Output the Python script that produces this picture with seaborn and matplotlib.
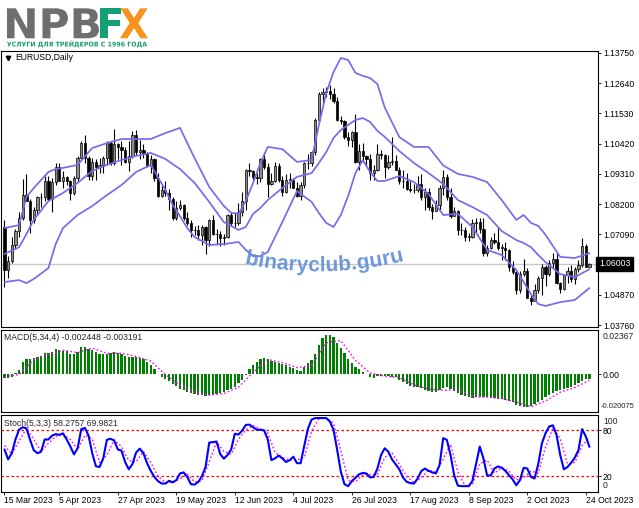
import numpy as np
import pandas as pd
import matplotlib
matplotlib.use("Agg")  # no display in the sandbox
import matplotlib.pyplot as plt
import seaborn as sns
from matplotlib.textpath import TextPath
from matplotlib.patches import PathPatch
from matplotlib.path import Path
from matplotlib.font_manager import FontProperties
from matplotlib.transforms import Affine2D, IdentityTransform, blended_transform_factory

# ---------------------------------------------------------------- data
# EURUSD daily, 15 Mar 2023 .. 25 Oct 2023 (bar index 0..160)
opens = [1.0735, 1.0577, 1.0610, 1.0670, 1.0720, 1.0770, 1.0855, 1.0830, 1.0760, 1.0800,
         1.0845, 1.0845, 1.0905, 1.0840, 1.0900, 1.0955, 1.0905, 1.0920, 1.0905, 1.0860,
         1.0915, 1.0990, 1.1045, 1.0990, 1.0925, 1.0975, 1.0955, 1.0965, 1.0990, 1.1045,
         1.0970, 1.1040, 1.1030, 1.1020, 1.0975, 1.0995, 1.1075, 1.1010, 1.1020, 1.1005,
         1.0960, 1.0985, 1.0915, 1.0850, 1.0870, 1.0860, 1.0840, 1.0770, 1.0805, 1.0815,
         1.0770, 1.0750, 1.0725, 1.0725, 1.0705, 1.0735, 1.0690, 1.0760, 1.0710, 1.0710,
         1.0695, 1.0700, 1.0780, 1.0750, 1.0750, 1.0790, 1.0830, 1.0945, 1.0940, 1.0920,
         1.0915, 1.0985, 1.0955, 1.0895, 1.0905, 1.0960, 1.0910, 1.0865, 1.0910, 1.0910,
         1.0880, 1.0850, 1.0890, 1.0970, 1.0970, 1.1010, 1.1130, 1.1225, 1.1230, 1.1235,
         1.1225, 1.1200, 1.1130, 1.1125, 1.1065, 1.1055, 1.1085, 1.0975, 1.1015, 1.0995,
         1.0985, 1.0935, 1.0945, 1.1005, 1.1000, 1.0955, 1.0975, 1.0980, 1.0945, 1.0905,
         1.0905, 1.0875, 1.0870, 1.0870, 1.0895, 1.0845, 1.0865, 1.0810, 1.0795, 1.0815,
         1.0880, 1.0920, 1.0845, 1.0775, 1.0795, 1.0725, 1.0725, 1.0700, 1.0700, 1.0750,
         1.0755, 1.0730, 1.0640, 1.0660, 1.0690, 1.0680, 1.0660, 1.0660, 1.0650, 1.0590,
         1.0570, 1.0505, 1.0565, 1.0575, 1.0475, 1.0465, 1.0505, 1.0550, 1.0590, 1.0565,
         1.0605, 1.0620, 1.0530, 1.0510, 1.0560, 1.0575, 1.0545, 1.0580, 1.0595, 1.0665,
         1.0590]
highs = [1.0760, 1.0630, 1.0700, 1.0730, 1.0790, 1.0912, 1.0930, 1.0840, 1.0810, 1.0850,
         1.0860, 1.0925, 1.0925, 1.0915, 1.0970, 1.0970, 1.0940, 1.0925, 1.0910, 1.0925,
         1.0995, 1.1050, 1.1075, 1.0995, 1.0990, 1.0985, 1.0990, 1.0995, 1.1050, 1.1050,
         1.1095, 1.1045, 1.1050, 1.1030, 1.1050, 1.1090, 1.1092, 1.1055, 1.1040, 1.1010,
         1.1000, 1.0990, 1.0935, 1.0890, 1.0905, 1.0875, 1.0845, 1.0830, 1.0835, 1.0820,
         1.0790, 1.0760, 1.0740, 1.0745, 1.0745, 1.0740, 1.0765, 1.0780, 1.0730, 1.0720,
         1.0710, 1.0785, 1.0790, 1.0790, 1.0825, 1.0865, 1.0950, 1.0970, 1.0945, 1.0935,
         1.0990, 1.1012, 1.0970, 1.0935, 1.0975, 1.0970, 1.0925, 1.0930, 1.0935, 1.0915,
         1.0900, 1.0900, 1.0975, 1.1005, 1.1015, 1.1135, 1.1230, 1.1245, 1.1250, 1.1256,
         1.1245, 1.1215, 1.1145, 1.1130, 1.1085, 1.1090, 1.1150, 1.1040, 1.1045, 1.1000,
         1.1005, 1.0965, 1.1040, 1.1020, 1.1005, 1.1000, 1.1065, 1.1000, 1.0955, 1.0945,
         1.0935, 1.0905, 1.0895, 1.0925, 1.0930, 1.0880, 1.0880, 1.0820, 1.0835, 1.0890,
         1.0945, 1.0930, 1.0880, 1.0810, 1.0800, 1.0750, 1.0735, 1.0715, 1.0765, 1.0770,
         1.0770, 1.0770, 1.0670, 1.0700, 1.0715, 1.0735, 1.0675, 1.0680, 1.0655, 1.0610,
         1.0575, 1.0575, 1.0620, 1.0585, 1.0485, 1.0525, 1.0555, 1.0600, 1.0595, 1.0615,
         1.0640, 1.0640, 1.0535, 1.0565, 1.0590, 1.0595, 1.0590, 1.0615, 1.0695, 1.0672,
         1.0605]
lows = [1.0516, 1.0550, 1.0605, 1.0655, 1.0700, 1.0760, 1.0830, 1.0715, 1.0750, 1.0780,
        1.0810, 1.0830, 1.0830, 1.0790, 1.0890, 1.0905, 1.0880, 1.0890, 1.0835, 1.0855,
        1.0900, 1.0985, 1.0970, 1.0910, 1.0910, 1.0910, 1.0935, 1.0935, 1.0965, 1.0965,
        1.0965, 1.0985, 1.0965, 1.0970, 1.0940, 1.0990, 1.1000, 1.0985, 1.0990, 1.0955,
        1.0935, 1.0905, 1.0845, 1.0845, 1.0850, 1.0800, 1.0760, 1.0760, 1.0800, 1.0760,
        1.0745, 1.0700, 1.0705, 1.0690, 1.0670, 1.0635, 1.0665, 1.0705, 1.0675, 1.0665,
        1.0670, 1.0695, 1.0740, 1.0735, 1.0745, 1.0775, 1.0800, 1.0925, 1.0910, 1.0895,
        1.0900, 1.0950, 1.0845, 1.0890, 1.0900, 1.0900, 1.0850, 1.0860, 1.0880, 1.0880,
        1.0845, 1.0835, 1.0880, 1.0950, 1.0960, 1.1000, 1.1125, 1.1190, 1.1215, 1.1205,
        1.1190, 1.1125, 1.1115, 1.1060, 1.1035, 1.1030, 1.0970, 1.0945, 1.0975, 1.0960,
        1.0910, 1.0910, 1.0940, 1.0985, 1.0915, 1.0950, 1.0965, 1.0945, 1.0895, 1.0880,
        1.0870, 1.0865, 1.0860, 1.0865, 1.0835, 1.0800, 1.0800, 1.0765, 1.0795, 1.0800,
        1.0855, 1.0835, 1.0770, 1.0780, 1.0705, 1.0705, 1.0685, 1.0685, 1.0695, 1.0715,
        1.0715, 1.0630, 1.0630, 1.0655, 1.0675, 1.0650, 1.0615, 1.0615, 1.0575, 1.0565,
        1.0490, 1.0495, 1.0555, 1.0475, 1.0448, 1.0465, 1.0495, 1.0485, 1.0520, 1.0555,
        1.0585, 1.0525, 1.0495, 1.0505, 1.0530, 1.0535, 1.0525, 1.0570, 1.0590, 1.0590,
        1.0588]
closes = [1.0577, 1.0610, 1.0670, 1.0720, 1.0770, 1.0855, 1.0830, 1.0760, 1.0800, 1.0845,
          1.0845, 1.0905, 1.0840, 1.0900, 1.0955, 1.0905, 1.0920, 1.0905, 1.0860, 1.0915,
          1.0990, 1.1045, 1.0990, 1.0925, 1.0975, 1.0955, 1.0965, 1.0990, 1.1045, 1.0970,
          1.1040, 1.1030, 1.1020, 1.0975, 1.0995, 1.1075, 1.1010, 1.1020, 1.1005, 1.0960,
          1.0985, 1.0915, 1.0850, 1.0870, 1.0860, 1.0840, 1.0770, 1.0805, 1.0815, 1.0770,
          1.0750, 1.0725, 1.0725, 1.0705, 1.0735, 1.0690, 1.0760, 1.0710, 1.0710, 1.0695,
          1.0700, 1.0780, 1.0750, 1.0750, 1.0790, 1.0830, 1.0945, 1.0940, 1.0920, 1.0915,
          1.0985, 1.0955, 1.0895, 1.0905, 1.0960, 1.0910, 1.0865, 1.0910, 1.0910, 1.0880,
          1.0850, 1.0890, 1.0970, 1.0970, 1.1010, 1.1130, 1.1225, 1.1230, 1.1235, 1.1225,
          1.1200, 1.1130, 1.1125, 1.1065, 1.1055, 1.1085, 1.0975, 1.1015, 1.0995, 1.0985,
          1.0935, 1.0945, 1.1005, 1.1000, 1.0955, 1.0975, 1.0980, 1.0945, 1.0905, 1.0905,
          1.0875, 1.0870, 1.0870, 1.0895, 1.0845, 1.0865, 1.0810, 1.0795, 1.0815, 1.0880,
          1.0920, 1.0845, 1.0775, 1.0795, 1.0725, 1.0725, 1.0700, 1.0700, 1.0750, 1.0755,
          1.0730, 1.0640, 1.0660, 1.0690, 1.0680, 1.0660, 1.0660, 1.0650, 1.0590, 1.0570,
          1.0505, 1.0565, 1.0575, 1.0475, 1.0465, 1.0505, 1.0550, 1.0590, 1.0565, 1.0605,
          1.0620, 1.0530, 1.0510, 1.0560, 1.0575, 1.0545, 1.0580, 1.0595, 1.0665, 1.0590,
          1.0600]

# Bollinger bands, read at sampled bars
band_idx = [0, 4, 6, 8, 12, 14, 16, 20, 24, 28,
            32, 36, 40, 44, 46, 48, 50, 52, 56, 60,
            62, 64, 66, 68, 70, 72, 76, 80, 84, 86,
            88, 90, 92, 94, 96, 98, 100, 102, 104, 108,
            112, 116, 120, 124, 128, 132, 136, 140, 142, 144,
            146, 148, 152, 156, 160]
bb_upper = [1.0732, 1.0743, 1.0846, 1.0879, 1.0938, 1.0949, 1.0953, 1.0964, 1.1026, 1.1044,
            1.1059, 1.1059, 1.1059, 1.1081, 1.1090, 1.1100, 1.1044, 1.0989, 1.0883, 1.0813,
            1.0788, 1.0784, 1.0831, 1.0898, 1.0971, 1.1030, 1.1022, 1.0975, 1.0982, 1.1111,
            1.1228, 1.1305, 1.1357, 1.1349, 1.1302, 1.1291, 1.1283, 1.1261, 1.1175, 1.1066,
            1.1030, 1.1030, 1.0962, 1.0931, 1.0920, 1.0901, 1.0835, 1.0762, 1.0780, 1.0751,
            1.0740, 1.0707, 1.0626, 1.0622, 1.0640]
bb_mid = [1.0637, 1.0662, 1.0710, 1.0762, 1.0831, 1.0846, 1.0861, 1.0898, 1.0942, 1.0964,
          1.0982, 1.0997, 1.1008, 1.0986, 1.0967, 1.0949, 1.0923, 1.0898, 1.0828, 1.0754,
          1.0740, 1.0725, 1.0736, 1.0784, 1.0806, 1.0835, 1.0879, 1.0920, 1.0934, 1.0971,
          1.1011, 1.1063, 1.1092, 1.1111, 1.1129, 1.1136, 1.1122, 1.1089, 1.1067, 1.1015,
          1.0971, 1.0934, 1.0894, 1.0835, 1.0809, 1.0780, 1.0721, 1.0688, 1.0677, 1.0662,
          1.0633, 1.0607, 1.0563, 1.0552, 1.0581]
bb_lower = [1.0534, 1.0541, 1.0530, 1.0545, 1.0585, 1.0673, 1.0732, 1.0780, 1.0813, 1.0853,
            1.0890, 1.0938, 1.0964, 1.0872, 1.0817, 1.0776, 1.0732, 1.0699, 1.0670, 1.0673,
            1.0677, 1.0681, 1.0652, 1.0629, 1.0629, 1.0644, 1.0754, 1.0868, 1.0828, 1.0787,
            1.0751, 1.0736, 1.0780, 1.0850, 1.0934, 1.0982, 1.0938, 1.0905, 1.0905, 1.0923,
            1.0901, 1.0857, 1.0780, 1.0784, 1.0736, 1.0652, 1.0633, 1.0578, 1.0534, 1.0490,
            1.0453, 1.0446, 1.0460, 1.0468, 1.0512]
last_price = 1.06003

# MACD(5,34,4)
macd_hist = [-0.0018, -0.0021, -0.0014, 0.0009, 0.0023, 0.0064, 0.0082, 0.0080, 0.0087, 0.0092,
             0.0098, 0.0116, 0.0112, 0.0121, 0.0137, 0.0132, 0.0126, 0.0124, 0.0110, 0.0110,
             0.0121, 0.0146, 0.0148, 0.0135, 0.0130, 0.0119, 0.0110, 0.0107, 0.0110, 0.0116,
             0.0117, 0.0112, 0.0107, 0.0100, 0.0094, 0.0094, 0.0094, 0.0087, 0.0080, 0.0068,
             0.0050, 0.0028, 0.0004, -0.0012, -0.0025, -0.0037, -0.0050, -0.0064, -0.0080, -0.0085,
             -0.0094, -0.0101, -0.0105, -0.0110, -0.0110, -0.0114, -0.0110, -0.0110, -0.0105, -0.0100,
             -0.0092, -0.0085, -0.0076, -0.0066, -0.0048, -0.0030, -0.0005, 0.0028, 0.0050, 0.0064,
             0.0084, 0.0089, 0.0080, 0.0071, 0.0068, 0.0059, 0.0053, 0.0048, 0.0037, 0.0034,
             0.0023, 0.0018, 0.0039, 0.0059, 0.0076, 0.0110, 0.0156, 0.0196, 0.0208, 0.0210,
             0.0199, 0.0169, 0.0142, 0.0112, 0.0082, 0.0059, 0.0041, 0.0027, 0.0012, 0.0002,
             -0.0012, -0.0018, -0.0007, -0.0007, -0.0007, -0.0011, -0.0012, -0.0016, -0.0030, -0.0043,
             -0.0053, -0.0060, -0.0066, -0.0068, -0.0075, -0.0082, -0.0087, -0.0092, -0.0092, -0.0084,
             -0.0071, -0.0068, -0.0076, -0.0087, -0.0101, -0.0110, -0.0117, -0.0123, -0.0124, -0.0119,
             -0.0119, -0.0121, -0.0123, -0.0124, -0.0126, -0.0132, -0.0133, -0.0137, -0.0142, -0.0149,
             -0.0165, -0.0171, -0.0176, -0.0173, -0.0171, -0.0160, -0.0149, -0.0139, -0.0119, -0.0108,
             -0.0098, -0.0089, -0.0084, -0.0078, -0.0075, -0.0068, -0.0057, -0.0048, -0.0037, -0.0027,
             -0.0024]
macd_sig_idx = list(range(0, 161, 4))
macd_signal = [-0.0012, -0.0001, 0.0078, 0.0105, 0.0129, 0.0116, 0.0140, 0.0112, 0.0113, 0.0096,
               0.0071, -0.0001, -0.0058, -0.0096, -0.0111, -0.0102, -0.0069, 0.0011, 0.0079, 0.0063,
               0.0036, 0.0048, 0.0168, 0.0180, 0.0074, 0.0007, -0.0010, -0.0017, -0.0056, -0.0078,
               -0.0085, -0.0083, -0.0119, -0.0121, -0.0129, -0.0148, -0.0173, -0.0142, -0.0095, -0.0070,
               -0.0032]
macd_max, macd_min = 0.02367, -0.020075

# Stochastic(5,3,3)
stoch_main = [55, 42, 50, 68, 81, 84, 82.5, 67.5, 54, 50, 52, 68, 68, 73, 75, 74, 76, 68, 59, 48.5,
              56.5, 81.6, 83, 73, 50, 33, 32, 43, 67.5, 69, 66.5, 55, 53.4, 38.5, 29, 36, 51, 56, 50, 37,
              27, 19, 13.5, 10.4, 10.4, 14, 12, 14.8, 23.6, 25, 19, 9.5, 9, 12.5, 20, 32, 64, 64.5, 65.3, 49,
              43, 47.7, 55, 75.5, 74.5, 79.6, 87, 87.4, 84, 80.7, 80.7, 80, 68.4, 41, 43.3, 47, 43.3, 38.5, 41, 45.5,
              37, 37, 60, 82, 94, 96, 96, 96, 96, 91.5, 80.7, 54.3, 25.8, 9.5, 7, 13.6, 18, 22.5, 24.3, 23.6,
              18.4, 19, 30, 47.7, 56.5, 52, 42, 35.5, 29, 18.4, 12.7, 11, 10.4, 17, 26.7, 30, 27, 25, 23.6, 34.5,
              69.7, 67.5, 47.7, 21.4, 7.7, 7, 7, 7, 14, 36.3, 58.7, 43.3, 21, 21, 30, 32.8, 31, 27, 21.4, 15.7,
              8.2, 14.8, 31, 30, 19, 17, 36, 63, 76.3, 85, 86.5, 74, 47.7, 29, 32, 37.5, 44.5, 54, 81.6, 72,
              58.3]
stoch_sig_idx = list(range(0, 161, 2))
stoch_signal = [60, 49, 66, 82.5, 68, 52, 63, 72, 75, 68, 54.7, 73.7, 68.7, 38, 47.5, 67.7, 58.3, 40.3,
                38.7, 52.3, 38, 19.8, 11.4, 12.1, 16.8, 22.5, 12.5, 13.8, 38.7, 64.6, 52.4, 48.6, 68.3,
                80.4, 86.1, 81.8, 76.4, 50.9, 44.5, 40.9, 41.2, 44.7, 78.7, 95.3, 96, 89.4, 53.6, 14.1,
                12.9, 21.6, 22.1, 22.5, 44.7, 50.2, 35.5, 20, 11.4, 18, 27.9, 25.2, 42.6, 61.6, 25.6,
                7.2, 9.3, 36.3, 41, 24, 31.3, 26.5, 15.1, 18, 26.7, 24, 58.4, 82.6, 69.4, 36.2, 38, 60,
                70.6]
stoch_levels = [20, 80]

date_idx = [0, 15, 31, 47, 63, 79, 95, 111, 127, 143, 159]
date_labels = ["15 Mar 2023", "5 Apr 2023", "27 Apr 2023", "19 May 2023", "12 Jun 2023",
               "4 Jul 2023", "26 Jul 2023", "17 Aug 2023", "8 Sep 2023", "2 Oct 2023",
               "24 Oct 2023"]
price_ticks = [1.1375, 1.1264, 1.1153, 1.1042, 1.0931, 1.0820, 1.0709, 1.0487, 1.0376]
price_labels = ["1.13750", "1.12640", "1.11530", "1.10420", "1.09310", "1.08200",
                "1.07090", "1.04870", "1.03760"]

# ---------------------------------------------------------------- style
sns.set_theme(style="white")
plt.rcParams["font.family"] = ["Liberation Sans", "DejaVu Sans"]
plt.rcParams["axes.edgecolor"] = "black"
plt.rcParams["axes.linewidth"] = 0.8

W, H = 639, 508
fig = plt.figure(figsize=(W / 100, H / 100), dpi=100)
fig.patch.set_facecolor("white")


def box(top, bottom, left=0.5, right=598.0):
    return [left / W, (H - bottom) / H, (right - left) / W, (bottom - top) / H]


ax_p = fig.add_axes(box(51, 327))
ax_m = fig.add_axes(box(330, 412))
ax_s = fig.add_axes(box(415, 491.5))

xlim = (-1.094, 162.34)
fs = 6.2
for ax in (ax_p, ax_m, ax_s):
    ax.set_xlim(*xlim)
    ax.set_facecolor("white")
    ax.yaxis.tick_right()
    ax.tick_params(axis="y", right=True, left=False, length=2.2, width=0.6, pad=1.4,
                   labelsize=fs, colors="black", direction="out")
    ax.tick_params(axis="x", bottom=False, labelbottom=False)
    for sp in ax.spines.values():
        sp.set_color("black")
        sp.set_linewidth(0.8)

# ---------------------------------------------------------------- price panel
df = pd.DataFrame({"o": opens, "h": highs, "l": lows, "c": closes})
df["i"] = np.arange(len(df))
up = df["c"] >= df["o"]
body_lo = np.minimum(df["o"], df["c"])
body_h = (df["c"] - df["o"]).abs().clip(lower=0.00012)

ax_p.axhline(last_price, color="#c8c8c8", lw=1.0, zorder=0.5)
ax_p.vlines(df["i"], df["l"], df["h"], color="black", lw=0.8, zorder=2)
ax_p.bar(df["i"][up], body_h[up], bottom=body_lo[up], width=0.62, color="#8c8c8c",
         edgecolor="black", linewidth=0.5, zorder=3)
ax_p.bar(df["i"][~up], body_h[~up], bottom=body_lo[~up], width=0.62, color="black",
         edgecolor="black", linewidth=0.5, zorder=3)

for band in (bb_upper, bb_mid, bb_lower):
    sns.lineplot(x=band_idx, y=band, ax=ax_p, color="#7b68ee", lw=1.25, zorder=4)

ax_p.set_ylim(1.03687, 1.13823)
ax_p.set_yticks(price_ticks, price_labels)
ax_p.set_xlabel("")
ax_p.set_ylabel("")

ax_p.plot([7.5 / 597.5], [1 - 7 / 276], marker="v", ms=3.2, color="black",
          transform=ax_p.transAxes, clip_on=False)
ax_p.text(15 / 597.5, 1 - 7 / 276, "EURUSD,Daily", transform=ax_p.transAxes,
          fontsize=fs, va="center", ha="left", color="black")

blend = blended_transform_factory(ax_p.transAxes, ax_p.transData)
ax_p.text(1.0017, last_price, "1.06003", transform=blend, ha="left", va="center",
          fontsize=fs, color="white", clip_on=False,
          bbox=dict(boxstyle="square,pad=0.3", fc="black", ec="black"))

# ---------------------------------------------------------------- MACD panel
ax_m.bar(np.arange(len(macd_hist)), macd_hist, width=0.62, color="#008000", linewidth=0)
sns.lineplot(x=macd_sig_idx, y=macd_signal, ax=ax_m, color="#ff00ff", lw=1.0,
             linestyle=(0, (1.2, 1.6)))
ax_m.set_ylim(macd_min, macd_max)
ax_m.set_yticks([0.0], ["0.00"])
ax_m.set_xlabel("")
ax_m.set_ylabel("")
ax_m.text(1.0084, 1 - 2 / 82, "0.02367", transform=ax_m.transAxes, ha="left", va="top",
          fontsize=fs, clip_on=False)
ax_m.text(1.005, 2 / 82, "-0.020075", transform=ax_m.transAxes, ha="left", va="bottom",
          fontsize=5.5, clip_on=False)
ax_m.text(4 / 597.5, 1 - 8 / 82, "MACD(5,34,4) -0.002448 -0.003191", transform=ax_m.transAxes,
          fontsize=fs, va="center", ha="left")

# ---------------------------------------------------------------- Stochastic panel
for lev in stoch_levels:
    ax_s.axhline(lev, color="#ff0000", lw=0.9, linestyle=(0, (2, 2)))
sns.lineplot(x=stoch_sig_idx, y=stoch_signal, ax=ax_s, color="#ff00ff", lw=1.0,
             linestyle=(0, (1.2, 1.6)))
sns.lineplot(x=np.arange(len(stoch_main)), y=stoch_main, ax=ax_s, color="#0000ff", lw=1.5)
ax_s.set_ylim(0, 100)
ax_s.set_yticks(stoch_levels, ["20", "80"])
ax_s.set_xlabel("")
ax_s.set_ylabel("")
ax_s.text(1.0084, 1 - 2 / 76.5, "100", transform=ax_s.transAxes, ha="left", va="top",
          fontsize=fs, clip_on=False)
ax_s.text(1.0084, 2 / 76.5, "0", transform=ax_s.transAxes, ha="left", va="bottom",
          fontsize=fs, clip_on=False)
ax_s.text(4 / 597.5, 1 - 8 / 76.5, "Stoch(5,3,3) 58.2757 69.9821", transform=ax_s.transAxes,
          fontsize=fs, va="center", ha="left")

ax_s.set_xticks(date_idx, date_labels)
ax_s.tick_params(axis="x", bottom=True, labelbottom=True, length=2.2, width=0.6, pad=1.0,
                 labelsize=fs, colors="black", direction="out")
for lbl in ax_s.get_xticklabels():
    lbl.set_horizontalalignment("left")


# ---------------------------------------------------------------- logo + watermark
def fit_text(text, x0, y0, x1, y1, color, family="DejaVu Sans"):
    """Draw text stretched into an image-pixel box (y measured from the top)."""
    tp = TextPath((0, 0), text, size=40, prop=FontProperties(family=family, weight="bold"))
    bb = tp.get_extents()
    tr = (Affine2D().translate(-bb.x0, -bb.y0)
          .scale((x1 - x0) / bb.width, (y1 - y0) / bb.height)
          .translate(x0, H - y1))
    fig.add_artist(PathPatch(tr.transform_path(tp), transform=IdentityTransform(),
                             fc=color, ec="none", zorder=6))


fit_text("NPB", 7, 8.3, 99, 38.3, "#6d6e71")
fit_text("F", 100, 8.3, 120.5, 38.3, "#14a073")
fit_text("X", 120, 8.3, 148, 38.3, "#f7941d")
fit_text("УСЛУГИ ДЛЯ ТРЕЙДЕРОВ С 1996 ГОДА", 7, 40.5, 147, 47.5, "#169c6f")


def watermark(text, x_left, width, color):
    """Text bent along a shallow arc, like the site stamp on the chart."""
    tp = TextPath((0, 0), text, size=20,
                  prop=FontProperties(family=["Liberation Sans", "DejaVu Sans"], weight="bold"))
    bb = tp.get_extents()
    k = width / bb.width
    u = (tp.vertices[:, 0] - bb.x0) * k
    v = tp.vertices[:, 1] * k
    x = x_left + u
    base = H - (271.3 - 0.0014 * (x - 318) ** 2)
    slope = 2 * 0.0014 * (x - 318)
    n = np.sqrt(1 + slope ** 2)
    pts = np.column_stack([x - v * slope / n, base + v / n])
    fig.add_artist(PathPatch(Path(pts, tp.codes), transform=IdentityTransform(),
                             fc=color, ec="none", alpha=0.9, zorder=7))


watermark("binaryclub.guru", 246, 157, "#5f8fd8")

fig.savefig("out.png", dpi=100, facecolor="white")
plt.close(fig)
